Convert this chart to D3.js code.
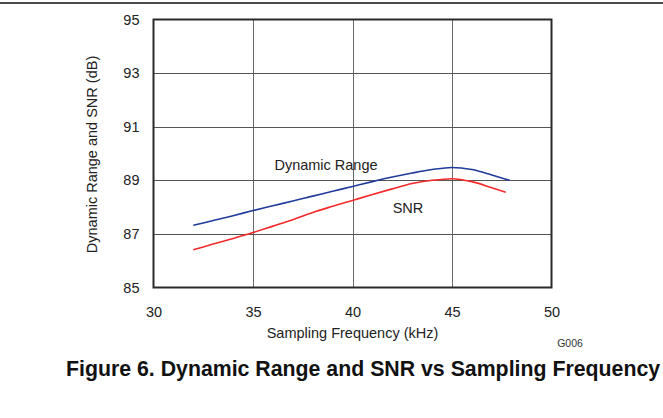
<!DOCTYPE html>
<html>
<head>
<meta charset="utf-8">
<script src="https://cdn.jsdelivr.net/npm/d3@7"></script>
<style>
  body { margin: 0; background: #fff; }
  svg { display: block; font-family: "Liberation Sans", Arial, sans-serif; }
</style>
</head>
<body>
<svg id="chart" width="663" height="418"></svg>
<script>
// Data
const drFreq = [32, 33, 34, 35, 36, 37, 38, 39, 40, 41, 42, 43, 44, 45, 46, 47, 47.9];
const drValues = [87.32, 87.5, 87.68, 87.87, 88.05, 88.23, 88.41, 88.59, 88.77, 88.95, 89.12, 89.27, 89.4, 89.48, 89.4, 89.2, 89.0];
const snrFreq = [32, 33, 34, 35, 36, 37, 38, 39, 40, 41, 42, 43, 44, 45, 46, 47, 47.7];
const snrValues = [86.41, 86.62, 86.83, 87.05, 87.29, 87.53, 87.8, 88.03, 88.25, 88.47, 88.68, 88.88, 89.0, 89.06, 88.95, 88.72, 88.55];
const xTicks = [30, 35, 40, 45, 50];
const yTicks = [85, 87, 89, 91, 93, 95];

const svg = d3.select("#chart");
const L = 153.5, R = 551.5, T = 19.5, B = 287.5;

const x = d3.scaleLinear().domain([30, 50]).range([L, R]);
const y = d3.scaleLinear().domain([85, 95]).range([B, T]);

// top rule
svg.append("line").attr("x1", 0).attr("x2", 663).attr("y1", 3).attr("y2", 3)
  .attr("stroke", "#111").attr("stroke-width", 1.5);

// grid
const g = svg.append("g");
g.selectAll(".vg").data(xTicks.slice(1, -1)).enter().append("line")
  .attr("x1", d => Math.round(x(d)) + 0.5).attr("x2", d => Math.round(x(d)) + 0.5)
  .attr("y1", T).attr("y2", B).attr("stroke", "#6a6a6a").attr("stroke-width", 1);
g.selectAll(".hg").data(yTicks.slice(1, -1)).enter().append("line")
  .attr("x1", L).attr("x2", R)
  .attr("y1", d => Math.round(y(d)) + 0.5).attr("y2", d => Math.round(y(d)) + 0.5)
  .attr("stroke", "#555").attr("stroke-width", 1);

// lines
const line = d3.line().x(d => x(d[0])).y(d => y(d[1])).curve(d3.curveMonotoneX);
svg.append("path").datum(drFreq.map((f, i) => [f, drValues[i]]))
  .attr("d", line).attr("fill", "none").attr("stroke", "#1f3c9c").attr("stroke-width", 1.6);
svg.append("path").datum(snrFreq.map((f, i) => [f, snrValues[i]]))
  .attr("d", line).attr("fill", "none").attr("stroke", "#f42a2a").attr("stroke-width", 1.6);

// frame
svg.append("rect").attr("x", L).attr("y", T).attr("width", R - L).attr("height", B - T)
  .attr("fill", "none").attr("stroke", "#2a2a2a").attr("stroke-width", 2);

// axes labels via d3 axes (no domain / tick lines)
const xAxis = svg.append("g").attr("transform", `translate(0,${B})`)
  .call(d3.axisBottom(x).tickValues(xTicks).tickSize(0).tickPadding(19).tickFormat(d3.format("d")));
xAxis.select(".domain").remove();
xAxis.selectAll("text").attr("font-size", 14.5).attr("fill", "#222").attr("font-family", "Liberation Sans, Arial, sans-serif");

const yAxis = svg.append("g").attr("transform", `translate(${L},0)`)
  .call(d3.axisLeft(y).tickValues(yTicks).tickSize(0).tickPadding(14).tickFormat(d3.format("d")));
yAxis.select(".domain").remove();
yAxis.selectAll("text").attr("font-size", 14.5).attr("fill", "#222").attr("font-family", "Liberation Sans, Arial, sans-serif");

// axis titles
svg.append("text").attr("x", (L + R) / 2).attr("y", 338).attr("text-anchor", "middle")
  .attr("font-size", 14.5).attr("fill", "#222").text("Sampling Frequency (kHz)");
svg.append("text").attr("transform", `translate(97,${(T + B) / 2 + 1}) rotate(-90)`)
  .attr("text-anchor", "middle").attr("font-size", 14.5).attr("fill", "#222")
  .text("Dynamic Range and SNR (dB)");

// series labels
svg.append("text").attr("x", 326).attr("y", 170).attr("text-anchor", "middle")
  .attr("font-size", 14.5).attr("fill", "#222").text("Dynamic Range");
svg.append("text").attr("x", 408).attr("y", 213).attr("text-anchor", "middle")
  .attr("font-size", 14.5).attr("fill", "#222").text("SNR");

// figure id
svg.append("text").attr("x", 570).attr("y", 347).attr("text-anchor", "middle")
  .attr("font-size", 10.5).attr("fill", "#333").text("G006");

// caption
svg.append("text").attr("x", 66).attr("y", 376)
  .attr("font-size", 21.3).attr("font-weight", "bold").attr("fill", "#111")
  .text("Figure 6. Dynamic Range and SNR vs Sampling Frequency");
</script>
</body>
</html>
